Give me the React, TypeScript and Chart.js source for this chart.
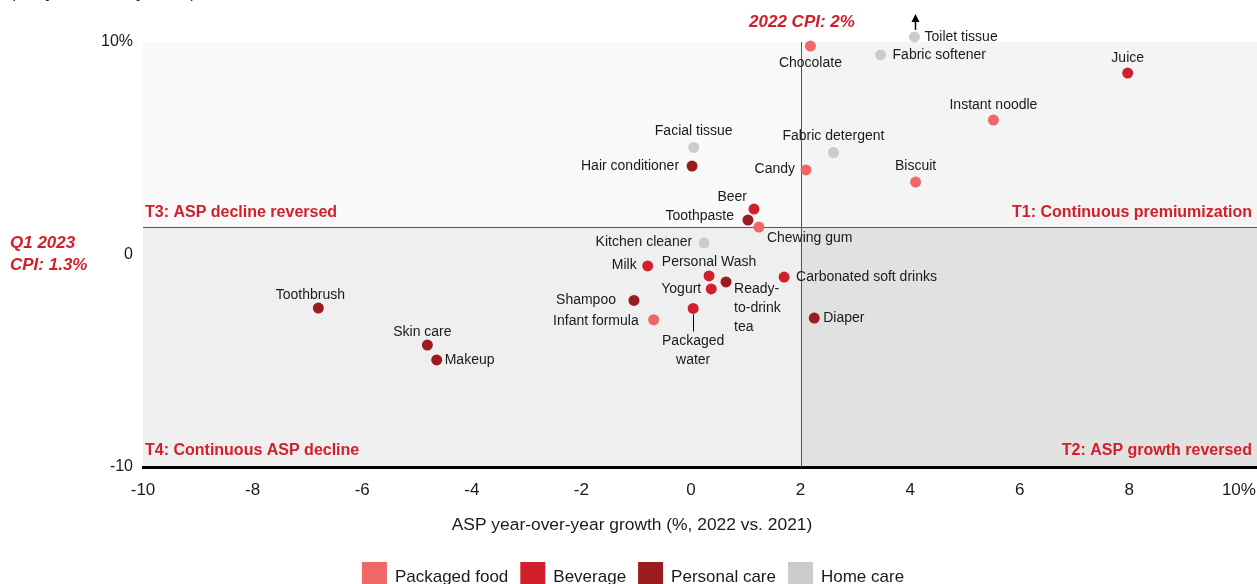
import React, { useEffect, useRef } from "react";
import { Chart, registerables } from "chart.js";

Chart.register(...registerables);

const FONT = "'Liberation Sans', Arial, Helvetica, sans-serif";

// ---- data ----
const categories = ["Packaged food", "Beverage", "Personal care", "Home care"];
const categoryColors = ["#f06767", "#d1202b", "#9b1b1f", "#cbcbcb"];

const packagedFood = [
  { name: "Chocolate", x: 2.18, y: 9.81 },
  { name: "Instant noodle", x: 5.52, y: 6.33 },
  { name: "Candy", x: 2.1, y: 3.98 },
  { name: "Biscuit", x: 4.1, y: 3.41 },
  { name: "Chewing gum", x: 1.24, y: 1.29 },
  { name: "Infant formula", x: -0.68, y: -3.07 },
];
const beverage = [
  { name: "Juice", x: 7.97, y: 8.54 },
  { name: "Beer", x: 1.15, y: 2.14 },
  { name: "Milk", x: -0.79, y: -0.54 },
  { name: "Ready-to-drink tea", x: 0.33, y: -1.01 },
  { name: "Yogurt", x: 0.37, y: -1.62 },
  { name: "Carbonated soft drinks", x: 1.7, y: -1.06 },
  { name: "Packaged water", x: 0.04, y: -2.54 },
];
const personalCare = [
  { name: "Hair conditioner", x: 0.02, y: 4.16 },
  { name: "Toothpaste", x: 1.04, y: 1.62 },
  { name: "Personal Wash", x: 0.64, y: -1.29 },
  { name: "Shampoo", x: -1.04, y: -2.16 },
  { name: "Diaper", x: 2.25, y: -2.99 },
  { name: "Toothbrush", x: -6.8, y: -2.52 },
  { name: "Skin care", x: -4.81, y: -4.26 },
  { name: "Makeup", x: -4.64, y: -4.96 },
];
const homeCare = [
  { name: "Toilet tissue", x: 4.08, y: 10.24 },
  { name: "Fabric softener", x: 3.46, y: 9.39 },
  { name: "Facial tissue", x: 0.05, y: 5.04 },
  { name: "Fabric detergent", x: 2.6, y: 4.8 },
  { name: "Kitchen cleaner", x: 0.24, y: 0.54 },
];
const seriesPoints = [packagedFood, beverage, personalCare, homeCare];

const CPI_2022 = 2;
const CPI_Q1_2023 = 1.3;
const xTicks = [-10, -8, -6, -4, -2, 0, 2, 4, 6, 8, 10];
const yTicks = [-10, 0, 10];

const xTitle = "ASP year-over-year growth (%, 2022 vs. 2021)";
const yTitleLine = "(%, Q1 2023 vs. Q1 2022)";
const quadrantLabels = {
  t1: "T1: Continuous premiumization",
  t2: "T2: ASP growth reversed",
  t3: "T3: ASP decline reversed",
  t4: "T4: Continuous ASP decline",
};
const cpiXLabel = "2022 CPI: 2%";
const cpiYLabel = ["Q1 2023", "CPI: 1.3%"];

// ---- label layout (pixel offsets from the point) ----
type Place = { dx: number; dy: number; align: CanvasTextAlign; lines?: string[] };
const labelPlace: Record<string, Place> = {
  Chocolate: { dx: 0, dy: 17, align: "center" },
  "Toilet tissue": { dx: 10, dy: 0, align: "left" },
  "Fabric softener": { dx: 12, dy: 0, align: "left" },
  Juice: { dx: 0, dy: -15, align: "center" },
  "Instant noodle": { dx: 0, dy: -15, align: "center" },
  "Facial tissue": { dx: 0, dy: -16, align: "center" },
  "Fabric detergent": { dx: 0, dy: -16, align: "center" },
  "Hair conditioner": { dx: -13, dy: 0, align: "right" },
  Candy: { dx: -11, dy: -1, align: "right" },
  Biscuit: { dx: 0, dy: -16, align: "center" },
  Beer: { dx: -7, dy: -12, align: "right" },
  Toothpaste: { dx: -14, dy: -4, align: "right" },
  "Chewing gum": { dx: 8, dy: 11, align: "left" },
  "Kitchen cleaner": { dx: -12, dy: -1, align: "right" },
  Milk: { dx: -11, dy: -1, align: "right" },
  "Personal Wash": { dx: -17, dy: -20, align: "center" },
  "Ready-to-drink tea": { dx: 25, dy: 13, align: "left", lines: ["Ready-", "to-drink", "tea"] },
  Yogurt: { dx: -10, dy: 0, align: "right" },
  "Carbonated soft drinks": { dx: 12, dy: 0, align: "left" },
  Shampoo: { dx: -18, dy: 0, align: "right" },
  "Packaged water": { dx: 0, dy: 33, align: "center", lines: ["Packaged", "water"] },
  "Infant formula": { dx: -15, dy: 1, align: "right" },
  Diaper: { dx: 9, dy: 0, align: "left" },
  Toothbrush: { dx: -8, dy: -13, align: "center" },
  "Skin care": { dx: -5, dy: -13, align: "center" },
  Makeup: { dx: 8, dy: 0, align: "left" },
};

const RED = "#d1202b";

const overlay = {
  id: "overlay",
  beforeDraw(chart: any) {
    const { ctx, chartArea: a, scales } = chart;
    const cx = scales.x.getPixelForValue(CPI_2022);
    const cy = scales.y.getPixelForValue(CPI_Q1_2023);
    ctx.save();
    ctx.fillStyle = "#ffffff";
    ctx.fillRect(0, 0, chart.width, chart.height);
    ctx.fillStyle = "#f9f9f9";
    ctx.fillRect(a.left, a.top, cx - a.left, cy - a.top);
    ctx.fillStyle = "#f4f4f4";
    ctx.fillRect(cx, a.top, a.right - cx, cy - a.top);
    ctx.fillStyle = "#efefef";
    ctx.fillRect(a.left, cy, cx - a.left, a.bottom - cy);
    ctx.fillStyle = "#e1e1e1";
    ctx.fillRect(cx, cy, a.right - cx, a.bottom - cy);
    ctx.restore();
  },
  beforeDatasetsDraw(chart: any) {
    const { ctx, chartArea: a, scales } = chart;
    const cx = Math.round(scales.x.getPixelForValue(CPI_2022));
    const cy = Math.round(scales.y.getPixelForValue(CPI_Q1_2023));
    ctx.save();
    ctx.fillStyle = RED;
    ctx.fillRect(cx, Math.round(a.top), 1, Math.round(a.bottom - a.top));
    ctx.fillRect(Math.round(a.left), cy, Math.round(a.right - a.left), 1);

    ctx.font = `bold 16px ${FONT}`;
    ctx.textBaseline = "middle";
    ctx.textAlign = "left";
    ctx.fillText(quadrantLabels.t3, a.left + 2, cy - 14);
    ctx.fillText(quadrantLabels.t4, a.left + 2, a.bottom - 16);
    ctx.textAlign = "right";
    ctx.fillText(quadrantLabels.t1, a.right - 5, cy - 14);
    ctx.fillText(quadrantLabels.t2, a.right - 5, a.bottom - 16);

    ctx.font = `italic bold 17px ${FONT}`;
    ctx.textAlign = "center";
    ctx.fillText(cpiXLabel, cx + 1, 22);
    ctx.textAlign = "left";
    ctx.fillText(cpiYLabel[0], 10, cy + 16);
    ctx.fillText(cpiYLabel[1], 10, cy + 38);
    ctx.restore();
  },
  afterDatasetsDraw(chart: any) {
    const { ctx, scales } = chart;
    ctx.save();
    ctx.fillStyle = "#1a1a1a";
    ctx.font = `14px ${FONT}`;
    ctx.textBaseline = "middle";
    chart.data.datasets.forEach((ds: any) => {
      ds.data.forEach((p: any) => {
        const px = scales.x.getPixelForValue(p.x);
        const py = scales.y.getPixelForValue(p.y);
        const pl = labelPlace[p.name] || { dx: 10, dy: 0, align: "left" };
        ctx.textAlign = pl.align;
        const lines = pl.lines || [p.name];
        lines.forEach((ln, i) => ctx.fillText(ln, px + pl.dx, py + pl.dy + i * 19));
        if (p.name === "Packaged water") {
          ctx.strokeStyle = "#000";
          ctx.lineWidth = 1;
          ctx.beginPath();
          ctx.moveTo(Math.round(px) + 0.5, py + 6);
          ctx.lineTo(Math.round(px) + 0.5, py + 23);
          ctx.stroke();
        }
        if (p.name === "Toilet tissue") {
          const ax = Math.round(px) + 0.5;
          ctx.strokeStyle = "#000";
          ctx.fillStyle = "#000";
          ctx.lineWidth = 1.5;
          ctx.beginPath();
          ctx.moveTo(ax, py - 7);
          ctx.lineTo(ax, py - 18);
          ctx.stroke();
          ctx.beginPath();
          ctx.moveTo(ax, py - 23);
          ctx.lineTo(ax - 4, py - 15);
          ctx.lineTo(ax + 4, py - 15);
          ctx.closePath();
          ctx.fill();
          ctx.fillStyle = "#1a1a1a";
        }
      });
    });

    // x-axis title
    ctx.fillStyle = "#1a1a1a";
    ctx.font = `17.4px ${FONT}`;
    ctx.textAlign = "center";
    ctx.fillText(xTitle, 632, 525);

    // clipped y-axis title line at top
    ctx.textAlign = "left";
    ctx.textBaseline = "alphabetic";
    ctx.font = `16px ${FONT}`;
    ctx.fillText(yTitleLine, 10, -2);

    // legend
    ctx.font = `17px ${FONT}`;
    ctx.textBaseline = "middle";
    const box = 25;
    const gapText = 8;
    const gapItem = 12;
    const items = chart.data.datasets.map((ds: any) => ({
      label: ds.label,
      color: ds.backgroundColor,
      w: ctx.measureText(ds.label).width,
    }));
    const total = items.reduce((s: number, it: any) => s + box + gapText + it.w, 0) + gapItem * (items.length - 1);
    let lx = 633 - total / 2;
    const ly = 562;
    items.forEach((it: any) => {
      ctx.fillStyle = it.color;
      ctx.fillRect(lx, ly, box, box);
      ctx.fillStyle = "#1a1a1a";
      ctx.textAlign = "left";
      ctx.fillText(it.label, lx + box + gapText, ly + 15);
      lx += box + gapText + it.w + gapItem;
    });
    ctx.restore();
  },
};

export default function App() {
  const ref = useRef<HTMLCanvasElement | null>(null);
  useEffect(() => {
    document.body.style.margin = "0";
    const canvas = ref.current!;
    const chart = new Chart(canvas, {
      type: "scatter",
      data: {
        datasets: categories.map((c, i) => ({
          label: c,
          data: seriesPoints[i].map((p) => ({ x: p.x, y: p.y, name: p.name })),
          backgroundColor: categoryColors[i],
          borderWidth: 0,
          pointRadius: 5.5,
          pointHoverRadius: 5.5,
          clip: false as any,
        })),
      },
      options: {
        animation: false,
        responsive: false,
        devicePixelRatio: 1,
        events: [],
        layout: { autoPadding: false, padding: { top: 42, bottom: 33, left: 0, right: 0 } },
        plugins: { legend: { display: false }, tooltip: { enabled: false } },
        scales: {
          x: {
            type: "linear",
            min: -10,
            max: 10.33,
            afterBuildTicks: (s: any) => {
              s.ticks = xTicks.map((v) => ({ value: v }));
            },
            ticks: {
              autoSkip: false,
              maxRotation: 0,
              padding: 13,
              color: "#1a1a1a",
              font: { size: 17, family: FONT },
              callback: (v: any) => (v === 10 ? "10%" : String(v)),
            },
            grid: { display: false, drawTicks: false },
            border: { display: true, color: "#000", width: 3 },
            afterFit: (s: any) => {
              s.height = 100;
              s.paddingLeft = 0;
              s.paddingRight = 0;
            },
          },
          y: {
            type: "linear",
            min: -10,
            max: 10,
            afterBuildTicks: (s: any) => {
              s.ticks = yTicks.map((v) => ({ value: v }));
            },
            ticks: {
              padding: 10,
              color: "#1a1a1a",
              font: { size: 16, family: FONT },
              callback: (v: any) => (v === 10 ? "10%" : String(v)),
            },
            grid: { display: false, drawTicks: false },
            border: { display: false },
            afterFit: (s: any) => {
              s.width = 143;
              s.paddingTop = 0;
              s.paddingBottom = 0;
            },
          },
        },
      },
      plugins: [overlay],
    });
    return () => chart.destroy();
  }, []);
  return (
    <div style={{ position: "fixed", left: 0, top: 0, width: 1257, height: 600 }}>
      <canvas ref={ref} width={1257} height={600} style={{ width: 1257, height: 600, display: "block" }} />
    </div>
  );
}
